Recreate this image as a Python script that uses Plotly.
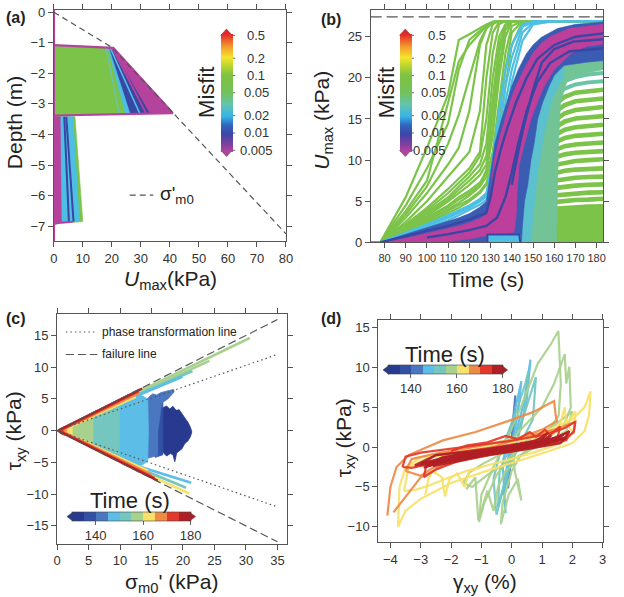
import math
import plotly.graph_objects as go

W, H = 624, 597
FONT = "Liberation Sans, Arial, Helvetica, sans-serif"


def px(x):
    return x / W


def py(y):
    return 1 - y / H


# ======================= DATA =======================
# ---------- colours ----------
C_PURPLE = "#b5439e"
C_DBLUE = "#3a46a3"
C_BLUE = "#3a5cb3"
C_CYAN = "#4ebfe4"
C_TEAL = "#6cc4a6"
C_GREEN = "#7cc34a"
TIME_EDGES = [130, 135, 140, 145, 150, 155, 160, 165, 170, 175, 180]
TIME_COLORS = ["#283a8f", "#3251a5", "#4a78c0", "#5cbde6", "#74c6c0",
               "#a9d18e", "#f8e168", "#ef8b47", "#e3382b", "#b01f25"]
MISFIT_TICKS = [0.005, 0.01, 0.02, 0.05, 0.1, 0.2, 0.5]
MISFIT_STOPS = [(0.0, "#b5439e"), (0.07, "#7e3f9f"), (0.15, "#3c45a5"),
                (0.23, "#3068bf"), (0.30, "#37b3e6"), (0.40, "#62c4b0"),
                (0.50, "#72c15c"), (0.65, "#7ec242"), (0.74, "#c2d72e"),
                (0.80, "#f5e52b"), (0.89, "#f49d2c"), (1.0, "#e3262a")]

# ---------- (a) Umax depth profiles (U kPa, depth m) ----------
a_sigma = [(0, 0), (20, -1.15), (80, -7.25)]
a_up_purple = [(0, -1.08), (20.5, -1.17), (41.0, -3.30), (0, -3.38)]
a_up_blue = [(0, -1.10), (19.9, -1.18), (33.0, -3.31), (0, -3.37)]
a_up_cyan = [(0, -1.10), (19.0, -1.18), (26.2, -3.31), (0, -3.37)]
a_up_green = [(0, -1.11), (18.5, -1.18), (24.5, -3.32), (0, -3.37)]
a_up_line_cyan2 = [(19.5, -1.18), (29.6, -3.31)]
a_up_line_purple = [(20.2, -1.18), (31.8, -3.31)]
a_up_line_cyan = [(18.0, -1.18), (22.5, -3.32)]
a_lo_green = [(0, -3.42), (7.3, -3.42), (10.0, -6.85), (0, -6.93)]
a_lo_cyan = [(0, -3.42), (6.6, -3.42), (8.8, -6.83), (0, -6.92)]
a_lo_line_blue1 = [(3.6, -3.42), (5.2, -6.86)]
a_lo_line_blue2 = [(4.3, -3.42), (6.8, -6.85)]
a_lo_purple = [(0, -3.42), (2.2, -3.42), (2.6, -6.88), (0, -6.93)]
a_outline = [(0, -1.08), (20.5, -1.17), (41.0, -3.30), (0, -3.38)]
a_axis_line = [(0, 0.1), (0, -7.5)]
a_lo_bottom = [(0, -6.93), (2.6, -6.88), (6.5, -6.86)]

# ---------- (b) Umax time histories (t s, U kPa) ----------
b_t = [74, 78, 90, 100, 110, 115, 120, 125, 128, 131, 134, 137, 140, 145, 150, 160, 183]
b_green_early = [
    [0, 0, 5.5, 11.5, 18.0, 24.6, 25.3, 26.0, 26.5, 26.8, 26.9, 26.9, 26.9, 26.9, 26.9, 26.9, 26.9],
    [0, 0, 4.5, 9.0, 14.5, 21.0, 24.6, 25.8, 26.4, 26.8, 26.9, 26.9, 26.9, 26.9, 26.9, 26.9, 26.9],
    [0, 0, 3.8, 7.5, 17.0, 22.0, 24.0, 25.5, 26.3, 26.8, 26.9, 26.9, 26.9, 26.9, 26.9, 26.9, 26.9],
    [0, 0, 3.4, 6.8, 12.0, 15.5, 20.0, 24.5, 26.0, 26.7, 26.9, 26.9, 26.9, 26.9, 26.9, 26.9, 26.9],
    [0, 0, 3.0, 6.0, 9.5, 11.5, 16.0, 24.0, 26.0, 26.7, 26.9, 26.9, 26.9, 26.9, 26.9, 26.9, 26.9],
    [0, 0, 2.5, 5.0, 8.0, 9.5, 11.0, 16.0, 24.0, 26.5, 26.9, 26.9, 26.9, 26.9, 26.9, 26.9, 26.9],
    [0, 0, 2.2, 4.2, 6.5, 7.8, 9.0, 11.0, 20.0, 25.5, 26.8, 26.9, 26.9, 26.9, 26.9, 26.9, 26.9],
    [0, 0, 2.0, 3.9, 6.0, 7.2, 8.5, 10.5, 15.0, 23.0, 26.5, 26.9, 26.9, 26.9, 26.9, 26.9, 26.9],
    [0, 0, 1.8, 3.6, 5.5, 6.8, 8.0, 9.5, 12.0, 20.0, 25.0, 26.5, 26.9, 26.9, 26.9, 26.9, 26.9],
    [0, 0, 1.7, 3.4, 5.2, 6.4, 7.5, 8.8, 10.5, 17.5, 24.0, 26.4, 26.9, 26.9, 26.9, 26.9, 26.9],
    [0, 0, 1.6, 3.2, 5.0, 6.0, 7.0, 8.2, 9.5, 16.0, 23.0, 26.3, 26.9, 26.9, 26.9, 26.9, 26.9],
    [0, 0, 1.5, 3.0, 4.5, 5.5, 6.3, 7.3, 8.5, 13.0, 20.0, 25.0, 26.8, 26.9, 26.9, 26.9, 26.9],
    [0, 0, 1.4, 2.8, 4.3, 5.2, 6.0, 7.0, 8.8, 14.0, 21.5, 25.8, 26.9, 26.9, 26.9, 26.9, 26.9],
    [0, 0, 1.3, 2.6, 4.0, 4.8, 5.7, 6.8, 8.0, 11.0, 17.0, 23.0, 26.3, 26.9, 26.9, 26.9, 26.9],
    [0, 0, 1.2, 2.5, 3.8, 4.5, 5.2, 6.2, 7.2, 10.0, 15.0, 21.0, 25.5, 26.9, 26.9, 26.9, 26.9],
    [0, 0, 1.1, 2.3, 3.5, 4.2, 5.0, 6.0, 7.0, 9.0, 13.0, 19.0, 24.0, 26.8, 26.9, 26.9, 26.9],
]
b_cyan = [
    [0, 0, 1.2, 2.2, 3.3, 3.9, 4.5, 5.3, 6.0, 9.0, 14.0, 19.0, 22.5, 26.2, 26.8, 26.9, 26.9],
    [0, 0, 1.0, 2.0, 3.0, 3.6, 4.2, 5.0, 5.6, 8.0, 12.0, 17.0, 21.0, 25.5, 26.7, 26.9, 26.9],
    [0, 0, 0.9, 1.8, 2.7, 3.3, 3.9, 4.6, 5.2, 7.0, 10.5, 15.0, 19.5, 24.5, 26.5, 26.9, 26.9],
    [0, 0, 1.1, 2.1, 3.1, 3.7, 4.3, 5.1, 5.8, 10.0, 16.0, 21.0, 24.0, 26.5, 26.9, 26.9, 26.9],
]
b_blue_band = [(74, 0), (78, 0), (90, 1.0), (100, 1.8), (110, 2.6), (115, 3.0), (120, 3.5),
               (125, 4.3), (128, 5.0), (130, 8.5), (132, 12.0), (135.2, 15.0), (138, 17.5),
               (140, 19.0), (143, 21.0), (146.8, 22.9), (150, 24.0), (153.8, 24.9),
               (161.5, 26.0), (170, 26.5), (183, 26.8),
               (183, 22.1), (175, 21.9), (164.6, 21.5), (160, 20.3), (157.6, 19.0),
               (154.5, 17.0), (152.2, 15.0), (150.5, 12.0), (149, 10.0), (147.5, 7.0),
               (146, 5.0), (145, 2.0), (144.5, 0)]
b_purple_band = [(74, 0), (78, 0), (90, 0.5), (100, 1.1), (110, 1.7), (115, 2.0), (120, 2.4),
                 (125, 2.9), (128, 3.4), (130, 6.0), (131.5, 9.8), (134, 12.5), (136.8, 15.0),
                 (139, 17.0), (142, 19.0), (146, 21.2), (150, 23.0), (154, 24.2), (158, 25.0),
                 (167, 26.0), (183, 26.5),
                 (183, 24.1), (175, 23.8), (167.7, 22.9), (160, 21.0), (155.3, 19.0),
                 (152, 17.0), (149.1, 15.0), (146, 12.0), (143.5, 9.5), (142.5, 6.0),
                 (142, 3.0), (141, 1.2), (135, 1.1), (130, 1.0), (128, 0.8), (120, 0.4),
                 (110, 0.15), (100, 0.05), (90, 0)]
b_blue_inner = [
    [(140, 7.0), (143, 11.0), (146, 14.5), (150, 18.5), (154, 21.8), (160, 23.5),
     (169, 24.4), (183, 24.7)],
    [(78, 0), (90, 0.8), (100, 1.4), (110, 2.0), (120, 2.8), (128, 3.6), (130, 5.5),
     (132, 8.5), (135, 11.5), (138, 14.0), (142, 17.0), (147, 20.0), (152, 22.3),
     (160, 24.0), (170, 25.0), (183, 25.4)],
    [(100, 0.6), (110, 1.0), (120, 1.5), (128, 2.0), (133, 3.0), (137, 5.5), (140, 8.5),
     (143, 12.0), (147, 16.0), (152, 19.5), (158, 21.8), (167, 23.2), (183, 23.6)],
]
b_step_box = [(128.5, 0), (128.5, 0.95), (143.8, 0.95), (144.3, 0)]
b_step_line = [(128.5, 0), (128.5, 0.95), (143.5, 0.95), (144.0, 0)]
b_teal_zone = [(144.5, 0), (145, 2.0), (146, 5.0), (147.5, 7.0), (149, 10.0), (150.5, 12.0),
               (152.2, 15.0), (154.5, 17.0), (157.6, 19.0), (160, 20.3), (164.6, 21.5),
               (175, 21.9), (183, 22.1), (183, 21.0), (172, 20.4), (166, 19.6),
               (163, 17.0), (162, 12.0), (161.5, 6.0), (161, 0)]
b_cyan_zone = [(144.5, 0), (145, 2.0), (146, 5.0), (147.5, 7.0), (149, 10.0), (150.5, 12.0),
               (152.2, 15.0), (154.5, 17.0), (157.6, 19.0), (160, 20.3), (164.6, 21.5),
               (164.6, 20.2), (159, 17.5), (155, 13.0), (152, 8.0), (150, 3.0), (149, 0)]
b_late_t = [144.5, 148, 152, 156, 160, 165, 170, 176, 183]
b_late_green = [
    [0, 0.6, 0.9, 1.0, 1.05, 1.1, 1.15, 1.2, 1.25],
    [0, 1.1, 1.6, 1.75, 1.85, 1.9, 1.95, 2.0, 2.05],
    [0, 1.6, 2.3, 2.5, 2.6, 2.7, 2.75, 2.8, 2.85],
    [0, 2.0, 2.9, 3.2, 3.35, 3.45, 3.5, 3.55, 3.6],
    [0, 2.4, 3.5, 3.9, 4.1, 4.2, 4.3, 4.35, 4.4],
    [0, 2.8, 4.1, 4.7, 4.9, 5.05, 5.15, 5.2, 5.3],
    [0, 3.1, 4.7, 5.4, 5.7, 5.85, 6.0, 6.05, 6.1],
    [0, 3.4, 5.3, 6.2, 6.6, 6.8, 6.9, 7.0, 7.05],
    [0, 3.7, 5.9, 7.0, 7.5, 7.7, 7.85, 7.95, 8.0],
    [0, 4.0, 6.5, 7.8, 8.4, 8.7, 8.85, 8.95, 9.0],
    [0, 4.3, 7.1, 8.6, 9.4, 9.7, 9.9, 10.0, 10.1],
    [0, 4.6, 7.7, 9.4, 10.3, 10.7, 10.9, 11.0, 11.1],
    [0, 4.9, 8.3, 10.2, 11.2, 11.7, 11.9, 12.0, 12.15],
    [0, 5.2, 8.9, 11.0, 12.1, 12.7, 12.95, 13.1, 13.2],
    [0, 5.5, 9.5, 11.8, 13.0, 13.7, 14.0, 14.15, 14.3],
    [0, 5.8, 10.1, 12.6, 13.9, 14.7, 15.05, 15.2, 15.35],
    [0, 6.1, 10.7, 13.4, 14.8, 15.7, 16.1, 16.3, 16.45],
    [0, 6.4, 11.3, 14.2, 15.8, 16.7, 17.15, 17.35, 17.5],
    [0, 6.7, 11.9, 15.0, 16.7, 17.7, 18.2, 18.4, 18.55],
]
b_late_teal = [
    [0, 7.0, 12.5, 15.8, 17.6, 18.7, 19.2, 19.45, 19.6],
    [0, 7.3, 13.1, 16.6, 18.5, 19.6, 20.1, 20.4, 20.6],
]
b_late_cyan = [
    [0, 7.6, 13.7, 17.3, 19.3, 20.4, 20.9, 21.2, 21.4],
    [0, 7.9, 14.3, 18.0, 20.0, 21.1, 21.6, 21.9, 22.1],
]
b_late_base = [(144.5, 0), (147, 2.5), (150, 3.5), (155, 4.0), (160, 4.2), (183, 4.4), (183, 0)]
b_ref_level = 27.4

# ---------- (c) stress path (sigma' kPa, tau kPa), by time bin ----------
c_fail_sig = [0, 35]
c_fail_tau = [0, 17.5]
c_pt_sig = [0, 35]
c_pt_tau = [0, 12.0]
c_poly = {
    130: [(16.4, 3.0), (16.8, 3.6), (17.4, 3.9), (17.9, 3.4), (18.4, 3.85), (18.9, 3.2),
          (19.4, 3.3), (19.9, 2.6), (20.3, 2.0), (20.8, 1.3), (21.2, 0.5), (21.4, -0.2),
          (21.2, -0.9), (20.8, -1.6), (20.3, -2.0), (19.8, -2.9), (19.4, -3.2), (19.0, -3.5),
          (18.7, -4.9), (18.4, -3.8), (18.0, -3.6), (17.4, -4.0), (16.8, -3.4), (16.4, -3.0)],
    135: [(15.6, 4.6), (16.8, 4.4), (16.8, -3.8), (15.6, -4.2)],
    140: [(14.2, 4.8), (14.6, 5.3), (15.2, 5.8), (15.8, 5.6), (16.5, 6.0), (17.2, 6.2),
          (17.8, 6.3), (18.5, 6.5), (18.6, 6.1), (17.6, 5.0), (16.6, 4.3), (16.0, 0),
          (16.0, -3.9), (15.0, -4.2), (14.2, -4.4)],
    145: [(9.8, 4.9), (10.5, 5.25), (11.5, 5.5), (12.5, 5.6), (13.5, 5.5), (14.4, 5.0),
          (14.5, 0), (14.4, -4.8), (13.5, -5.4), (12.5, -5.8), (11.5, -5.75), (10.5, -5.25),
          (9.8, -4.9)],
    150: [(5.6, 2.8), (9.9, 4.95), (9.9, -4.95), (5.6, -2.8)],
    155: [(2.3, 1.15), (5.7, 2.85), (5.7, -2.85), (2.3, -1.15)],
    160: [(1.0, 0.5), (2.4, 1.2), (2.4, -1.2), (1.0, -0.5)],
    165: [(0.5, 0.35), (1.2, 0.6), (1.5, 0), (1.2, -0.8), (0.5, -0.45)],
    170: [(0.1, 0.0), (0.5, 0.3), (0.9, 0.4), (1.0, 0.0), (0.9, -0.55), (0.5, -0.45)],
}
c_edges = [
    (175, [(0.3, 0.1), (13.5, 6.65)]), (170, [(0.8, 0.2), (13.0, 6.2)]),
    (165, [(1.2, 0.3), (13.0, 5.9)]), (160, [(1.6, 0.4), (12.5, 5.3)]),
    (175, [(0.3, -0.1), (16.0, -7.9)]), (170, [(0.8, -0.2), (15.5, -7.45)]),
    (165, [(1.2, -0.3), (15.0, -6.9)]), (160, [(1.6, -0.45), (14.5, -6.3)]),
]
c_spikes = [
    (155, [(11.0, 5.2), (30.6, 14.6)]), (155, [(11.0, 5.0), (24.2, 11.0)]),
    (150, [(11.0, 4.9), (21.5, 9.4)]), (145, [(11.0, 4.8), (19.9, 8.5)]),
    (160, [(11.0, -5.35), (21.0, -9.9)]), (150, [(11.0, -5.1), (20.5, -9.0)]),
    (145, [(11.0, -5.0), (21.3, -8.2)]),
]

# ---------- (d) stress-strain loops (gamma %, tau kPa), by time bin ----------
d_loops = [
    (140, [(-0.05, -1), (0.05, 3), (0.12, 6.5), (0.08, 2.5), (0, -1), (-0.08, -4), (-0.12, -5.2), (-0.05, -1)]),
    (145, [(-0.3, -2), (-0.1, 1.5), (0.1, 4.5), (0.25, 7), (0.32, 8.3), (0.2, 4), (0.0, 0.5),
           (-0.15, -3), (-0.25, -6.5), (-0.2, -8.3), (-0.3, -2)]),
    (145, [(-0.1, -1), (0.15, 2), (0.4, 5.5), (0.55, 9), (0.62, 11), (0.5, 6), (0.3, 2.5),
           (0.05, -1), (-0.15, -4), (-0.3, -6), (-0.1, -1)]),
    (150, [(-0.6, -4), (-0.4, -1), (-0.1, 2), (0.2, 5), (0.45, 8), (0.55, 9.5), (0.45, 5),
           (0.25, 2), (0, -1), (-0.2, -4), (-0.4, -7), (-0.5, -8.5), (-0.6, -4)]),
    (150, [(-0.4, -3), (0, 0.5), (0.4, 4), (0.8, 8.8), (0.7, 3.5), (0.3, 0.5), (-0.1, -2.5),
           (-0.45, -7.5), (-0.4, -3)]),
    (155, [(-0.2, 0.5), (0.3, 5), (0.86, 10.5), (1.3, 13), (1.54, 14.6), (1.58, 12), (1.62, 8),
           (1.55, 4), (1.2, 2), (0.6, 0.5), (0, -1), (-0.5, -3.5), (-0.9, -7), (-1.08, -9.4),
           (-1.0, -6), (-0.6, -2.5), (-0.2, 0.5)]),
    (155, [(0, 1), (0.5, 3), (1.0, 5), (1.4, 8), (1.75, 11.7), (1.8, 8), (1.9, 10.1), (1.95, 5),
           (1.7, 2.5), (1.2, 1.2), (0.7, 0.2), (0.3, -1), (0, -3), (-0.3, -7), (-0.36, -9.7),
           (-0.1, -6), (0.2, -4), (0.32, -6.7), (0.1, -3), (0, 1)]),
    (155, [(-1.6, -4.5), (-1.4, -3.2), (-1.0, -2.2), (-0.5, -1.2), (0, -0.2), (0.5, 0.8),
           (1.0, 1.8), (1.5, 3.0), (2.0, 4.5), (1.8, 2.0), (1.2, 0.8), (0.5, -0.6), (-0.2, -2.0),
           (-0.8, -3.5), (-1.3, -5.0), (-1.6, -4.5)]),
    (155, [(-1.5, -5.3), (-1.2, -3.8), (-1.1, -9.2), (-0.8, -5.5), (-0.6, -8), (-0.45, -5),
           (-0.2, -3), (0.1, -2)]),
    (160, [(-3.75, -10), (-3.7, -5), (-3.5, -2.5), (-3.0, -1.3), (-2.0, -0.5), (-1.0, 0.2),
           (0, 1.0), (1.0, 1.8), (2.0, 3.5), (2.4, 5), (2.6, 7), (2.55, 4), (2.4, 2), (2.0, 0.5),
           (1.0, -0.8), (0, -2.0), (-1.0, -3.2), (-2.0, -4.5), (-2.5, -5.5), (-3.0, -6.5),
           (-3.5, -8.0), (-3.75, -10)]),
    (160, [(-3.55, -5.5), (-3.4, -2.5), (-2.8, -1.4), (-1.5, -0.5), (0, 0.6), (1.2, 1.6),
           (1.8, 2.8), (2.1, 4.5), (2.05, 2.0), (1.7, 0.6), (0.8, -0.6), (-0.5, -2.0),
           (-1.5, -3.0), (-2.2, -4.0), (-2.7, -4.8), (-3.2, -5.4), (-3.55, -5.5)]),
    (160, [(-2.85, -6.0), (-2.75, -4.0), (-2.6, -3.0), (-2.3, -3.8), (-2.2, -6.2), (-2.05, -4.0),
           (-1.8, -3.3), (-1.55, -5.0), (-1.4, -3.0), (-1.0, -2.5)]),
    (160, [(1.2, 1.0), (1.6, 3.0), (1.75, 5.0), (1.8, 3.0), (2.0, 2.0)]),
    (165, [(-4.1, -8.6), (-4.0, -5.0), (-3.8, -2.5), (-3.4, -1.0), (-2.27, 0.85), (-1.19, 1.9),
           (-0.1, 3.3), (0.7, 4.4), (1.4, 5.8), (1.45, 4.0), (1.5, 3.3), (1.0, 2.2), (0, 0.8),
           (-1.0, -0.5), (-2.0, -1.8), (-3.0, -3.8), (-3.9, -8.2)]),
    (165, [(-3.5, -3.0), (-3.3, -1.5), (-2.5, -0.8), (-1.0, 0.2), (0.5, 1.3), (1.5, 2.3),
           (2.1, 3.2), (2.05, 1.8), (1.5, 0.8), (0.5, -0.2), (-1.0, -1.2), (-2.0, -2.0),
           (-2.6, -2.6), (-3.0, -3.6), (-3.5, -3.0)]),
    (170, [(-3.6, -2.5), (-3.5, -1.2), (-3.0, -0.7), (-2.0, -0.2), (-1.0, 0.3), (0, 0.8),
           (1.0, 1.5), (1.7, 2.3), (2.1, 3.2), (2.05, 2.0), (1.8, 1.0), (1.0, 0.3), (0, -0.4),
           (-1.0, -1.0), (-2.0, -1.6), (-2.8, -2.2), (-3.3, -2.6), (-3.6, -2.5)]),
    (170, [(-3.0, -2.2), (-2.5, -1.0), (-1.5, -0.5), (-0.5, 0.0), (0.5, 0.6), (1.5, 1.2),
           (1.9, 2.0), (1.8, 0.9), (1.0, 0.2), (0, -0.5), (-1.0, -1.1), (-2.0, -1.7),
           (-2.7, -2.3), (-3.0, -2.2)]),
    (170, [(-2.9, -3.8), (-2.8, -2.0), (-2.2, -1.2), (-1.0, -0.6), (0.3, 0.4), (1.2, 1.3),
           (1.6, 2.6), (1.5, 1.0), (0.5, 0.0), (-0.8, -0.9), (-1.8, -1.8), (-2.5, -2.8), (-2.9, -3.8)]),
    (170, [(-2.0, -0.5), (-1.5, 0.2), (-0.8, 0.6), (-0.2, 1.4), (0.2, 1.0), (0.6, 1.9),
           (0.8, 1.3), (1.1, 2.2), (1.3, 1.4)]),
    (175, [(-3.2, -2.3), (-2.5, -1.0), (-1.5, -0.6), (-0.5, -0.1), (0.5, 0.4), (1.3, 1.0),
           (1.7, 1.6), (1.5, 0.8), (0.8, 0.2), (0, -0.3), (-1.0, -0.9), (-2.0, -1.5),
           (-2.8, -2.1), (-3.2, -2.3)]),
    (175, [(-2.9, -2.6), (-2.3, -1.3), (-1.2, -0.7), (0, 0.0), (1.0, 0.6), (1.6, 1.4),
           (1.9, 2.0), (1.75, 1.1), (1.0, 0.3), (-0.2, -0.5), (-1.3, -1.2), (-2.3, -1.9), (-2.9, -2.6)]),
    (175, [(-2.4, -1.6), (-1.8, -0.9), (-0.8, -0.4), (0.2, 0.2), (1.0, 0.7), (1.3, 1.5),
           (1.1, 0.6), (0.2, -0.1), (-0.9, -0.7), (-1.9, -1.3), (-2.4, -1.6)]),
    (175, [(-3.0, -2.0), (-2.0, -1.2), (-1.0, -0.5), (0, 0.2), (0.8, 0.8), (1.2, 1.8),
           (0.9, 0.6), (0, -0.2), (-1.2, -1.0), (-2.2, -1.6), (-3.0, -2.0)]),
    (175, [(-2.6, -2.4), (-2.0, -1.6), (-1.0, -0.9), (0, -0.3), (1.0, 0.5), (1.8, 1.2),
           (1.6, 0.5), (0.6, -0.2), (-0.6, -0.9), (-1.7, -1.7), (-2.6, -2.4)]),
]


def tcol(t):
    for i in range(len(TIME_COLORS)):
        if TIME_EDGES[i] <= t < TIME_EDGES[i + 1]:
            return TIME_COLORS[i]
    return TIME_COLORS[-1]


# ======================= FIGURE =======================
fig = go.Figure()


def add_poly(pts, color, xa, ya, lw=0.6):
    xs = [p[0] for p in pts] + [pts[0][0]]
    ys = [p[1] for p in pts] + [pts[0][1]]
    fig.add_trace(go.Scatter(x=xs, y=ys, mode="lines", fill="toself", fillcolor=color,
                             line=dict(color=color, width=lw), xaxis=xa, yaxis=ya,
                             hoverinfo="skip", showlegend=False))


def add_line(xs, ys, color, xa, ya, lw=2.0, dash=None, opacity=1.0):
    fig.add_trace(go.Scatter(x=xs, y=ys, mode="lines", opacity=opacity,
                             line=dict(color=color, width=lw, dash=dash),
                             xaxis=xa, yaxis=ya, hoverinfo="skip", showlegend=False))


def add_pts(pts, color, xa, ya, lw=2.0, dash=None, opacity=1.0):
    add_line([p[0] for p in pts], [p[1] for p in pts], color, xa, ya, lw, dash, opacity)


# ---- (a) ----
add_poly(a_up_purple, C_PURPLE, "x", "y")
add_poly(a_up_blue, C_DBLUE, "x", "y")
add_pts(a_up_line_purple, C_PURPLE, "x", "y", 1.8)
add_pts(a_up_line_cyan2, C_CYAN, "x", "y", 1.6)
add_poly(a_up_cyan, C_CYAN, "x", "y")
add_poly(a_up_green, C_GREEN, "x", "y")
add_pts(a_up_line_cyan, "#67c4b8", "x", "y", 1.2)
add_poly(a_lo_green, C_GREEN, "x", "y")
add_poly(a_lo_cyan, C_CYAN, "x", "y")
add_pts(a_lo_line_blue1, C_DBLUE, "x", "y", 2.0)
add_pts(a_lo_line_blue2, C_DBLUE, "x", "y", 2.0)
add_poly(a_lo_purple, C_PURPLE, "x", "y")
add_pts(a_outline, C_PURPLE, "x", "y", 2.2)
add_pts(a_lo_bottom, C_PURPLE, "x", "y", 1.8)
add_pts(a_axis_line, C_PURPLE, "x", "y", 2.5)
add_pts(a_sigma, "#555555", "x", "y", 1.2, dash="6px,4px")

# ---- (b) ----
for row in b_late_green:
    add_line(b_late_t, row, C_GREEN, "x2", "y2", 4.6)
for row in b_late_teal:
    add_line(b_late_t, row, C_TEAL, "x2", "y2", 4.0)
for row in b_late_cyan:
    add_line(b_late_t, row, C_CYAN, "x2", "y2", 3.0)
add_poly(b_late_base, C_GREEN, "x2", "y2")
add_poly(b_teal_zone, "#72c496", "x2", "y2")
add_poly(b_cyan_zone, "#5cc1cf", "x2", "y2")
for row in b_green_early:
    add_line(b_t, row, C_GREEN, "x2", "y2", 2.2)
for row in b_cyan:
    add_line(b_t, row, C_CYAN, "x2", "y2", 2.2)
add_poly(b_blue_band, C_BLUE, "x2", "y2")
add_poly(b_purple_band, "#bd3f9c", "x2", "y2")
for pts in b_blue_inner:
    add_pts(pts, C_DBLUE, "x2", "y2", 2.4)
add_poly(b_step_box, C_CYAN, "x2", "y2")
add_pts(b_step_line, C_DBLUE, "x2", "y2", 2.0)
add_line([73.5, 183.1], [b_ref_level, b_ref_level], "#555555", "x2", "y2", 1.3, dash="11px,5px")

# ---- (c) ----
for t in sorted(c_poly):
    add_poly(c_poly[t], tcol(t), "x3", "y3", 0.8)
for t, pts in c_spikes:
    add_pts(pts, tcol(t), "x3", "y3", 2.6)
for t, pts in c_edges[::-1]:
    add_pts(pts, tcol(t), "x3", "y3", 2.2)
add_line(c_pt_sig, c_pt_tau, "#555555", "x3", "y3", 1.2, dash="1.5px,3px")
add_line(c_pt_sig, [-v for v in c_pt_tau], "#555555", "x3", "y3", 1.2, dash="1.5px,3px")
add_line(c_fail_sig, c_fail_tau, "#555555", "x3", "y3", 1.2, dash="8px,4px")
add_line(c_fail_sig, [-v for v in c_fail_tau], "#555555", "x3", "y3", 1.2, dash="8px,4px")

# ---- (d) ----
for t, pts in d_loops:
    add_pts(pts, tcol(t), "x4", "y4", 2.2, opacity=0.92)

# ---- colour bars ----
lo, hi = math.log10(MISFIT_TICKS[0]), math.log10(MISFIT_TICKS[-1])
misfit_scale = [[s, c] for s, c in MISFIT_STOPS]
time_scale = []
for i, c in enumerate(TIME_COLORS):
    time_scale.append([i / len(TIME_COLORS), c])
    time_scale.append([(i + 1) / len(TIME_COLORS), c])

CB_TOP, CB_BOT = 31.0, 148.5
CB_W = 11.6
MISFIT_BARS_X = (220.7, 402.7)
for (xa, ya), bar_x in zip((("x", "y"), ("x2", "y2")), MISFIT_BARS_X):
    fig.add_trace(go.Scatter(
        x=[-1000], y=[-1000], mode="markers", xaxis=xa, yaxis=ya, showlegend=False,
        hoverinfo="skip",
        marker=dict(size=1, color=[lo], cmin=lo, cmax=hi, colorscale=misfit_scale, showscale=True,
                    colorbar=dict(x=px(bar_x), xanchor="left", xpad=0, ypad=0,
                                  y=py((CB_TOP + CB_BOT) / 2), yanchor="middle",
                                  len=CB_BOT - CB_TOP, lenmode="pixels", thickness=CB_W,
                                  thicknessmode="pixels", outlinewidth=0,
                                  tickmode="array", tickvals=[], ticks="",
                                  showticklabels=False))))

HCB = ((129.5, 523.0, 119), (449.2, 373.0, 115))
for (xa, ya), (cx, cy, ln) in zip((("x3", "y3"), ("x4", "y4")), HCB):
    fig.add_trace(go.Scatter(
        x=[-1000], y=[-1000], mode="markers", xaxis=xa, yaxis=ya, showlegend=False,
        hoverinfo="skip",
        marker=dict(size=1, color=[150], cmin=TIME_EDGES[0], cmax=TIME_EDGES[-1],
                    colorscale=time_scale, showscale=True,
                    colorbar=dict(orientation="h", x=px(cx), xanchor="center",
                                  y=py(cy - 4.5), yanchor="top", xpad=0, ypad=0,
                                  len=ln, lenmode="pixels", thickness=9,
                                  thicknessmode="pixels", outlinewidth=0.6, outlinecolor="#444",
                                  tickvals=[140, 160, 180], ticks="outside", ticklen=4,
                                  tickcolor="#666",
                                  tickfont=dict(size=13, color="#333", family=FONT)))))

# ======================= SHAPES =======================
shapes = []


def tri(pts_px, color):
    d = "M " + " L ".join(f"{px(x):.5f},{py(y):.5f}" for x, y in pts_px) + " Z"
    shapes.append(dict(type="path", xref="paper", yref="paper", path=d,
                       fillcolor=color, line=dict(color="#444", width=0.5), layer="above"))


def seg(x0, x1, y0, y1, dash=None, color="#555", width=1.2):
    shapes.append(dict(type="line", xref="paper", yref="paper", x0=px(x0), x1=px(x1),
                       y0=py(y0), y1=py(y1), line=dict(color=color, width=width, dash=dash)))


for bx in MISFIT_BARS_X:
    tri([(bx, CB_TOP), (bx + CB_W / 2, CB_TOP - 6.5), (bx + CB_W, CB_TOP)], "#e3262a")
    tri([(bx, CB_BOT), (bx + CB_W / 2, CB_BOT + 6.5), (bx + CB_W, CB_BOT)], "#b5439e")
for cx, cy, ln in HCB:
    l, r = cx - ln / 2, cx + ln / 2
    tri([(l, cy - 4.5), (l - 6, cy), (l, cy + 4.5)], TIME_COLORS[0])
    tri([(r, cy - 4.5), (r + 6, cy), (r, cy + 4.5)], TIME_COLORS[-1])

seg(128, 152, 194.3, 194.3, "6px,4px")
seg(63, 95, 334.3, 334.3, "1.5px,3px")
seg(63, 95, 357.3, 357.3, "8px,4px")

# ======================= ANNOTATIONS =======================
anns = []


def ann(text, x, y, size, xanchor="center", yanchor="middle", angle=0, color="#222"):
    anns.append(dict(text=text, x=px(x), y=py(y), xref="paper", yref="paper",
                     xanchor=xanchor, yanchor=yanchor, textangle=angle, showarrow=False,
                     font=dict(size=size, color=color, family=FONT)))


ann("<b>(a)</b>", 0, 13, 16, xanchor="left")
ann("<b>(b)</b>", 321, 15, 16, xanchor="left")
ann("<b>(c)</b>", 0, 320, 16, xanchor="left")
ann("<b>(d)</b>", 321, 320, 16, xanchor="left")
ann("<i>U</i><sub>max</sub>(kPa)", 169, 281, 21)
ann("Depth (m)", 11, 120, 21, angle=-90)
ann("Time (s)", 491, 281, 21)
ann("<i>U</i><sub>max</sub> (kPa)", 325, 118, 21, angle=-90)
ann("σ<sub>m0</sub>' (kPa)", 171, 591, 21)
ann("τ<sub>xy</sub> (kPa)", 11, 435, 21, angle=-90)
ann("γ<sub>xy</sub> (%)", 490, 591, 21)
ann("τ<sub>xy</sub> (kPa)", 347, 442, 21, angle=-90)
ann("Misfit", 206, 89.5, 22, angle=-90)
ann("Misfit", 389.5, 89.5, 22, angle=-90)
ann("Time (s)", 128, 507, 22)
ann("Time (s)", 449, 357, 22)
ann("σ'<sub>m0</sub>", 157, 194, 19, xanchor="left")
ann("phase transformation line", 98, 334, 12, xanchor="left")
ann("failure line", 98, 357, 12, xanchor="left")
for v in MISFIT_TICKS:
    yv = CB_TOP + (hi - math.log10(v)) / (hi - lo) * (CB_BOT - CB_TOP)
    for bx in MISFIT_BARS_X:
        seg(bx + CB_W, bx + CB_W + 3, yv, yv, None, "#666", 1)
    ann(f"{v:g}", 257, yv, 13, color="#333")
    ann(f"{v:g}", 452, yv, 13, xanchor="right", color="#333")


# ======================= AXES =======================
def axis(domain, rng, tickvals, anchor, size=13):
    return dict(domain=domain, range=rng, tickvals=tickvals, anchor=anchor,
                ticks="outside", ticklen=5, tickwidth=1, tickcolor="#555",
                showline=True, linecolor="#555", linewidth=1, mirror="allticks",
                showgrid=False, zeroline=False, tickangle=0,
                tickfont=dict(size=size, color="#333", family=FONT))


fig.update_layout(
    width=W, height=H, margin=dict(l=0, r=0, t=0, b=0),
    paper_bgcolor="white", plot_bgcolor="white",
    font=dict(family=FONT, color="#222"),
    showlegend=False,
    xaxis=axis([px(50.7), px(287)], [0, 80], list(range(0, 81, 10)), "y"),
    yaxis=axis([py(241.7), py(5)], [-7.5, 0.075], [0, -1, -2, -3, -4, -5, -6, -7], "x"),
    xaxis2=axis([px(373.3), px(610)], [73.5, 183.1], list(range(80, 181, 10)), "y2", size=11),
    yaxis2=axis([py(242.7), py(5)], [0, 28.26], [0, 5, 10, 15, 20, 25], "x2"),
    xaxis3=axis([px(54), px(287.7)], [0, 36.46], list(range(0, 36, 5)), "y3"),
    yaxis3=axis([py(550.7), py(315.7)], [-17.8, 18.4], [-15, -10, -5, 0, 5, 10, 15], "x3"),
    xaxis4=axis([px(381), px(610)], [-4.4, 3.02], [-4, -3, -2, -1, 0, 1, 2, 3], "y4"),
    yaxis4=axis([py(549.3), py(322.3)], [-11.97, 15.95], [-10, -5, 0, 5, 10, 15], "x4"),
    shapes=shapes, annotations=anns,
)

fig.write_html("out.html")
